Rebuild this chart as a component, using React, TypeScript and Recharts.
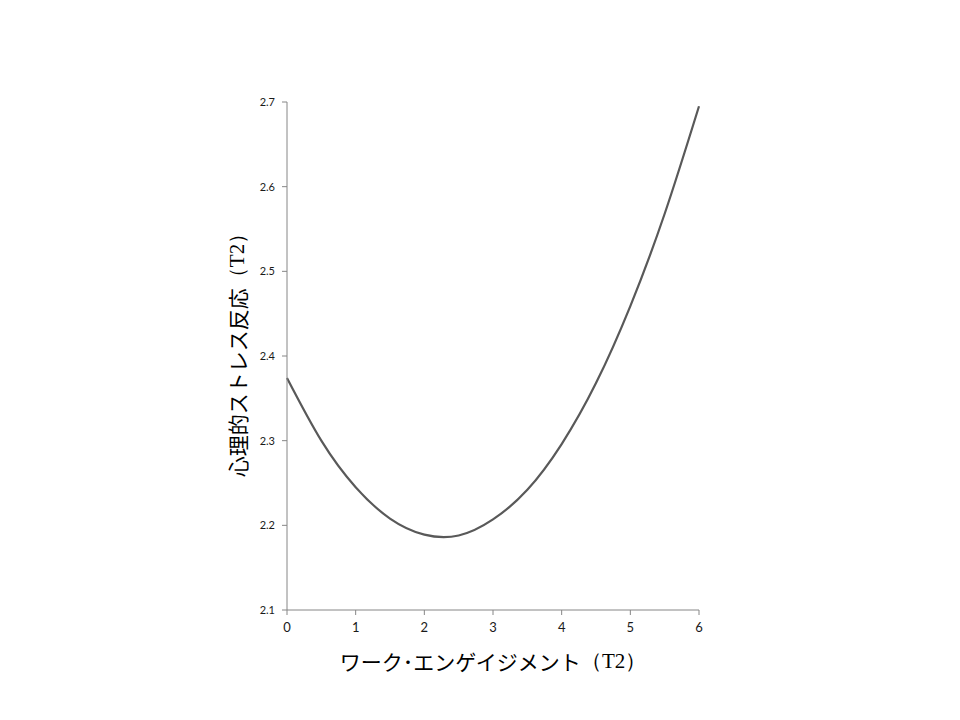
import React from "react";
import { LineChart, Line, XAxis, YAxis, Label } from "recharts";

const engagement = [0, 0.5, 1, 1.5, 2, 2.5, 3, 3.5, 4, 4.5, 5, 5.5, 6];
const stress = [2.374, 2.3, 2.245, 2.208, 2.189, 2.188, 2.207, 2.242, 2.296, 2.368, 2.459, 2.568, 2.695];
const xTicks = [0, 1, 2, 3, 4, 5, 6];
const yTicks = [2.1, 2.2, 2.3, 2.4, 2.5, 2.6, 2.7];

const data = engagement.map((x, i) => ({ x, y: stress[i] }));

const axisColor = "#868686";
const jpFont = "'Noto Sans CJK JP', sans-serif";
const serifFont = "'Liberation Serif', serif";

const XTitle = (props: any) => {
  const { viewBox } = props;
  const cx = viewBox.x + viewBox.width / 2;
  const cy = viewBox.y + 51;
  return (
    <text x={cx} y={cy} textAnchor="middle" dominantBaseline="central" fontSize={21} fill="#000">
      <tspan fontFamily={jpFont}>ワーク･エンゲイジメント</tspan>
      <tspan fontFamily={serifFont}>（T2）</tspan>
    </text>
  );
};

const YTitle = (props: any) => {
  const { viewBox } = props;
  const cx = viewBox.x + 10;
  const cy = viewBox.y + viewBox.height / 2 - 6;
  return (
    <text
      x={cx}
      y={cy}
      textAnchor="middle"
      dominantBaseline="central"
      fontSize={21}
      fill="#000"
      transform={`rotate(-90, ${cx}, ${cy})`}
    >
      <tspan fontFamily={jpFont}>心理的ストレス反応</tspan>
      <tspan fontFamily={serifFont}>（T2）</tspan>
    </text>
  );
};

export default function App() {
  return (
    <div style={{ width: 952, height: 712, background: "#fff" }}>
      <LineChart width={952} height={712} data={data} margin={{ top: 94, right: 261, left: 219, bottom: 80 }}>
        <XAxis
          dataKey="x"
          type="number"
          domain={[0, 6]}
          ticks={xTicks}
          height={30}
          tickSize={5}
          tickMargin={8}
          stroke={axisColor}
          tick={{ fill: "#1a1a1a", fontSize: 13, fontFamily: "Lato, sans-serif" }}
        >
          <Label content={<XTitle />} />
        </XAxis>
        <YAxis
          type="number"
          domain={[2.1, 2.7]}
          ticks={yTicks}
          width={60}
          tickSize={5}
          tickMargin={7}
          stroke={axisColor}
          tickFormatter={(v: number) => v.toFixed(1)}
          tick={{ fill: "#1a1a1a", fontSize: 11, fontFamily: "Lato, sans-serif" }}
        >
          <Label content={<YTitle />} />
        </YAxis>
        <Line
          type="natural"
          dataKey="y"
          stroke="#595959"
          strokeWidth={2.2}
          dot={false}
          isAnimationActive={false}
        />
      </LineChart>
    </div>
  );
}
